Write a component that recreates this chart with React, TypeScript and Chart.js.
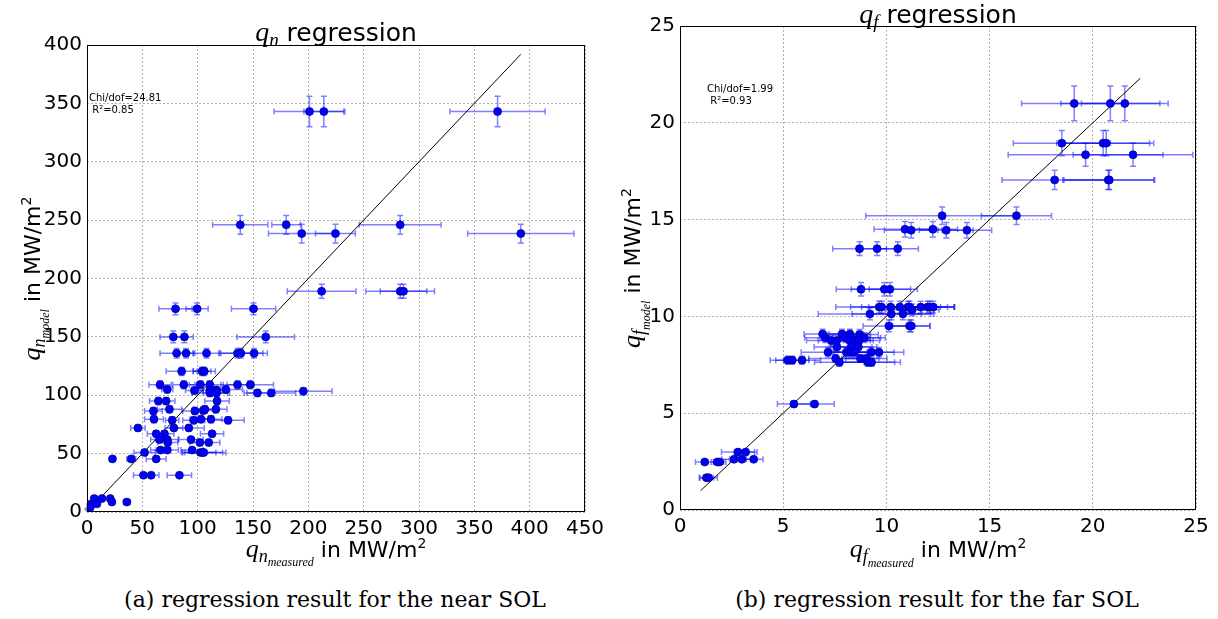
import React, { useEffect, useRef } from "react";
import { Chart, registerables } from "chart.js";
Chart.register(...registerables);

// ---------- (a) near SOL ----------
const nearX = [201, 214, 371, 138.5, 180, 283, 194, 224.5, 392, 212, 283, 286, 80, 99.5, 150.5, 78, 88, 161.5,
  81, 89.5, 108, 136, 139, 151, 85.5, 104, 106, 66, 87.5, 102.5, 111, 136, 147.5, 72.5, 97, 111, 117, 125.5,
  111, 117, 154, 166.5, 195.5, 64.5, 71.5, 117.5, 60, 74.5, 97.5, 105, 106.5, 116.5, 60.5, 77, 96.5, 103, 112, 127.5,
  46, 78.5, 92, 62.5, 70, 113, 65.5, 72.5, 73, 94, 102, 110, 52, 66.5, 72.5, 95, 102.5, 104.5, 105.5,
  23, 40, 62.5, 51, 58, 83.5, 0.5, 2, 3, 6.5, 9, 13.5, 21, 22.5, 36];
const nearY = [343, 343, 343, 246, 246, 246, 238.5, 238.5, 238.5, 189, 189, 189, 174, 174, 174, 150, 150, 150,
  136, 136, 136, 136, 136, 136, 120.5, 120.5, 120.5, 109, 109, 109, 109, 109, 109, 105, 104, 104, 104.5, 105,
  102, 102, 102, 102, 103.5, 95, 95, 95, 86.5, 88, 86.5, 87, 88, 88, 79.5, 78.5, 78.5, 79.5, 79.5, 78.5,
  72, 72, 72, 67, 67, 67, 62, 62, 59.5, 62, 59.5, 59.5, 51, 53, 53, 53, 51, 51, 51,
  45.5, 45.5, 45.5, 31.5, 31.5, 31.5, 2.5, 6.5, 4, 11.5, 7, 11.5, 11.5, 8.5, 8.5];
const nearXErr = [32, 18, 43, 25, 13, 37, 30, 18, 48, 31, 31, 21, 15, 10, 20, 12, 8, 26,
  15, 8, 12, 15, 20, 12, 14, 8, 10, 10, 10, 10, 12, 15, 21, 5, 8, 10, 9, 15,
  16, 12, 12, 22, 26, 8, 8, 11, 8, 11, 11, 10, 10, 10, 8.5, 6, 10, 10, 10, 14.5,
  6.5, 8, 14, 8, 8.5, 10.5, 8, 10, 9, 11, 9, 10, 9.5, 9, 10, 10, 14, 18, 20,
  0, 4, 9, 9, 7, 11, 0.5, 1, 0.5, 1, 1.5, 1.5, 1.5, 1.5, 3];
const nearYErr = [13, 13, 13, 8, 8, 8, 8, 8, 8, 6, 6, 6, 5, 5, 5, 5, 5, 5,
  4, 4, 4, 4, 4, 4, 3.5, 3.5, 3.5, 3.5, 3.5, 3.5, 3.5, 3.5, 3.5, 3, 3, 3, 3, 3,
  3, 3, 3, 3, 3, 3, 3, 3, 3, 3, 3, 3, 3, 3, 3, 3, 3, 3, 3, 3,
  2.5, 2.5, 2.5, 2.5, 2.5, 2.5, 2.5, 2.5, 2.5, 2.5, 2.5, 2.5, 2, 2, 2, 2, 2, 2, 2,
  2, 2, 2, 1.5, 1.5, 1.5, 0.5, 0.5, 0.5, 0.5, 0.5, 0.5, 0.5, 0.5, 0.5];
const nearFit = [0, 392];
const nearStats = ["Chi/dof=24.81", " R\u00b2=0.85"];

// ---------- (b) far SOL ----------
const farX = [19.1, 20.85, 21.55, 18.5, 20.5, 20.65, 19.65, 21.95, 18.15, 20.75, 20.8,
  12.7, 16.3, 10.9, 11.2, 12.25, 12.9, 13.9, 8.7, 9.55, 10.55, 8.77, 9.9, 10.17,
  9.65, 9.77, 10.2, 10.65, 11.05, 11.12, 11.66, 12.0, 12.1, 12.27, 9.2, 10.24, 10.8, 11.25,
  10.12, 11.12, 11.2, 6.91, 7.85, 8.23, 8.7, 7.04, 8.01, 8.3, 8.72, 8.94, 7.33, 7.6, 8.22, 8.46, 8.67,
  7.6, 8.3, 8.64, 7.17, 8.06, 8.28, 8.46, 9.27, 9.64, 5.22, 5.44, 5.91, 7.54, 8.74, 9.03, 7.72, 9.1, 9.28,
  5.52, 6.52, 2.81, 3.18, 2.62, 3.0, 3.57, 1.2, 1.81, 1.92, 1.28, 1.39];
const farY = [21, 21, 21, 18.95, 18.95, 18.95, 18.35, 18.35, 17.05, 17.05, 17.05,
  15.2, 15.2, 14.5, 14.45, 14.5, 14.45, 14.45, 13.5, 13.5, 13.5, 11.4, 11.4, 11.4,
  10.48, 10.48, 10.48, 10.48, 10.48, 10.48, 10.48, 10.48, 10.48, 10.48, 10.13, 10.13, 10.13, 10.34,
  9.51, 9.51, 9.51, 9.09, 9.09, 9.09, 9.07, 8.9, 8.9, 8.9, 8.9, 8.9, 8.75, 8.75, 8.75, 8.75, 8.75,
  8.42, 8.42, 8.42, 8.15, 8.15, 8.15, 8.15, 8.15, 8.15, 7.74, 7.74, 7.74, 7.83, 7.83, 7.83, 7.63, 7.63, 7.63,
  5.47, 5.47, 2.99, 2.99, 2.62, 2.62, 2.62, 2.48, 2.48, 2.48, 1.67, 1.67];
const farXErr = [2.55, 2.4, 2.1, 2.35, 2.25, 2.3, 3.75, 2.9, 2.55, 2.2, 2.2,
  3.7, 1.7, 1.5, 1.3, 1.2, 1.3, 1.2, 1.3, 1.0, 1.0, 1.2, 1.6, 1.0,
  2.1, 1.5, 1.4, 1.5, 1.2, 1.5, 1.3, 1.3, 1.2, 1.0, 2.5, 1.9, 1.5, 1.3,
  1.25, 1.0, 0.9, 0.9, 1.0, 1.0, 0.9, 1.0, 1.0, 0.9, 1.0, 1.0, 1.2, 0.9, 1.0, 0.9, 1.0,
  1.1, 1.0, 0.9, 1.3, 1.0, 0.9, 1.0, 1.1, 1.2, 0.85, 0.8, 0.9, 1.3, 0.9, 1.0, 1.2, 1.3, 1.4,
  0.8, 0.95, 0.8, 0.55, 0.6, 0.6, 0.45, 0.45, 0.3, 0.3, 0.35, 0.42];
const farYErr = [0.9, 0.9, 0.9, 0.65, 0.65, 0.65, 0.6, 0.6, 0.5, 0.5, 0.5,
  0.45, 0.45, 0.4, 0.4, 0.4, 0.4, 0.4, 0.35, 0.35, 0.35, 0.35, 0.35, 0.35,
  0.3, 0.3, 0.3, 0.3, 0.3, 0.3, 0.3, 0.3, 0.3, 0.3, 0.3, 0.3, 0.3, 0.3,
  0.3, 0.3, 0.3, 0.25, 0.25, 0.25, 0.25, 0.25, 0.25, 0.25, 0.25, 0.25, 0.25, 0.25, 0.25, 0.25, 0.25,
  0.25, 0.25, 0.25, 0.25, 0.25, 0.25, 0.25, 0.25, 0.25, 0.2, 0.2, 0.2, 0.2, 0.2, 0.2, 0.2, 0.2, 0.2,
  0.15, 0.15, 0.1, 0.1, 0.1, 0.1, 0.1, 0.1, 0.1, 0.1, 0.05, 0.05];
const farFit = [1, 22.3];
const farStats = ["Chi/dof=1.99", " R\u00b2=0.93"];

const nearAxis = { xMax: 450, yMax: 400, step: 50 };
const farAxis = { xMax: 25, yMax: 25, step: 5 };

const captionA = "(a) regression result for the near SOL";
const captionB = "(b) regression result for the far SOL";

const SANS = '"DejaVu Sans", sans-serif';
const MATH = '"Liberation Serif", serif';

type Seg = { t: string; f: string; dy?: number };

function drawRich(ctx: CanvasRenderingContext2D, segs: Seg[], cx: number, cy: number, rot = 0) {
  ctx.save();
  ctx.translate(cx, cy);
  ctx.rotate(rot);
  let w = 0;
  for (const s of segs) { ctx.font = s.f; w += ctx.measureText(s.t).width; }
  let x = -w / 2;
  ctx.textAlign = "left";
  ctx.textBaseline = "alphabetic";
  ctx.fillStyle = "#000";
  for (const s of segs) {
    ctx.font = s.f;
    ctx.fillText(s.t, x, s.dy || 0);
    x += ctx.measureText(s.t).width;
  }
  ctx.restore();
}

const errorBarPlugin = {
  id: "errorBars",
  beforeDatasetsDraw(chart: any) {
    const ctx = chart.ctx;
    const xs = chart.scales.x, ys = chart.scales.y;
    chart.data.datasets.forEach((ds: any) => {
      if (!ds.xErr) return;
      ctx.save();
      ctx.strokeStyle = "rgba(0,0,255,0.5)";
      ctx.lineWidth = 1.5;
      ds.data.forEach((p: any, i: number) => {
        const px = xs.getPixelForValue(p.x), py = ys.getPixelForValue(p.y);
        const xe = ds.xErr[i], ye = ds.yErr[i];
        const x1 = xs.getPixelForValue(p.x - xe), x2 = xs.getPixelForValue(p.x + xe);
        const y1 = ys.getPixelForValue(p.y - ye), y2 = ys.getPixelForValue(p.y + ye);
        const c = 3;
        ctx.beginPath();
        if (xe > 0) {
          ctx.moveTo(x1, py); ctx.lineTo(x2, py);
          ctx.moveTo(x1, py - c); ctx.lineTo(x1, py + c);
          ctx.moveTo(x2, py - c); ctx.lineTo(x2, py + c);
        }
        if (ye > 0) {
          ctx.moveTo(px, y1); ctx.lineTo(px, y2);
          ctx.moveTo(px - c, y1); ctx.lineTo(px + c, y1);
          ctx.moveTo(px - c, y2); ctx.lineTo(px + c, y2);
        }
        ctx.stroke();
      });
      ctx.restore();
    });
  },
};

const decorPlugin = {
  id: "decor",
  afterDraw(chart: any, _a: any, opts: any) {
    const ctx = chart.ctx;
    const a = chart.chartArea;
    ctx.save();
    ctx.strokeStyle = "#000";
    ctx.lineWidth = 1;
    ctx.strokeRect(Math.round(a.left) + 0.5, Math.round(a.top) + 0.5, Math.round(a.right - a.left) - 1, Math.round(a.bottom - a.top) - 1);
    ctx.restore();
    const cx = (a.left + a.right) / 2;
    const cy = (a.top + a.bottom) / 2;
    drawRich(ctx, opts.title, cx, opts.titleY);
    drawRich(ctx, opts.xTitle, cx, opts.xTitleY);
    drawRich(ctx, opts.yTitle, opts.yTitleX, cy, -Math.PI / 2);
    ctx.save();
    ctx.font = "10px " + SANS;
    ctx.fillStyle = "#000";
    ctx.textAlign = "left";
    ctx.fillText(opts.stats[0], opts.statsX, opts.statsY);
    ctx.fillText(opts.stats[1], opts.statsX, opts.statsY + 12);
    ctx.restore();
  },
};

function makeConfig(p: any) {
  const pts = p.xs.map((x: number, i: number) => ({ x, y: p.ys[i] }));
  return {
    type: "scatter",
    data: {
      datasets: [
        {
          data: pts,
          xErr: p.xErr,
          yErr: p.yErr,
          pointRadius: 4,
          pointBackgroundColor: "#0000ff",
          pointBorderColor: "#00007a",
          pointBorderWidth: 0.7,
        },
        {
          type: "line",
          data: p.fit.map((v: number) => ({ x: v, y: v })),
          borderColor: "#000",
          borderWidth: 1,
          pointRadius: 0,
          fill: false,
        },
      ],
    },
    options: {
      responsive: false,
      animation: false,
      events: [],
      layout: { padding: p.padding },
      plugins: {
        legend: { display: false },
        tooltip: { enabled: false },
        decor: p.decor,
      },
      scales: {
        x: {
          type: "linear",
          min: 0,
          max: p.axis.xMax,
          afterFit: (s: any) => { s.height = p.xAxisH; },
          ticks: { stepSize: p.axis.step, color: "#000", padding: 5, font: { family: SANS, size: 20 } },
          grid: { color: "#b0b0b0", drawTicks: false, lineWidth: 1 },
          border: { display: false, dash: [2, 2] },
        },
        y: {
          type: "linear",
          min: 0,
          max: p.axis.yMax,
          afterFit: (s: any) => { s.width = p.yAxisW; },
          ticks: { stepSize: p.axis.step, color: "#000", padding: 5, font: { family: SANS, size: 20 } },
          grid: { color: "#b0b0b0", drawTicks: false, lineWidth: 1 },
          border: { display: false, dash: [2, 2] },
        },
      },
    },
    plugins: [errorBarPlugin, decorPlugin],
  };
}

const qItal = (s: number) => "italic " + s + "px " + MATH;
const sans = (s: number) => s + "px " + SANS;

const nearCfg = {
  xs: nearX, ys: nearY, xErr: nearXErr, yErr: nearYErr, fit: nearFit, axis: nearAxis,
  padding: { left: 0, right: 25, top: 45, bottom: 0 }, xAxisH: 68, yAxisW: 87,
  decor: {
    title: [{ t: "q", f: qItal(28) }, { t: "n", f: qItal(19), dy: 5 }, { t: " regression", f: sans(25) }],
    titleY: 41,
    xTitle: [{ t: "q", f: qItal(26) }, { t: "n", f: qItal(18), dy: 5 }, { t: "measured", f: qItal(12), dy: 9 }, { t: " in MW/m", f: sans(22) }, { t: "2", f: sans(14), dy: -9 }],
    xTitleY: 557,
    yTitle: [{ t: "q", f: qItal(26) }, { t: "n", f: qItal(18), dy: 5 }, { t: "model", f: qItal(12), dy: 9 }, { t: " in MW/m", f: sans(22) }, { t: "2", f: sans(14), dy: -9 }],
    yTitleX: 40,
    stats: nearStats, statsX: 89, statsY: 101,
  },
};

const farCfg = {
  xs: farX, ys: farY, xErr: farXErr, yErr: farYErr, fit: farFit, axis: farAxis,
  padding: { left: 0, right: 22, top: 26, bottom: 0 }, xAxisH: 70, yAxisW: 70,
  decor: {
    title: [{ t: "q", f: qItal(28) }, { t: "f", f: qItal(19), dy: 5 }, { t: " regression", f: sans(25) }],
    titleY: 23,
    xTitle: [{ t: "q", f: qItal(26) }, { t: "f", f: qItal(18), dy: 5 }, { t: "measured", f: qItal(12), dy: 10 }, { t: " in MW/m", f: sans(22) }, { t: "2", f: sans(14), dy: -9 }],
    xTitleY: 557,
    yTitle: [{ t: "q", f: qItal(26) }, { t: "f", f: qItal(18), dy: 5 }, { t: "model", f: qItal(12), dy: 10 }, { t: " in MW/m", f: sans(22) }, { t: "2", f: sans(14), dy: -9 }],
    yTitleX: 30,
    stats: farStats, statsX: 97, statsY: 92,
  },
};

function Panel({ cfg, left, width, height }: any) {
  const ref = useRef<HTMLCanvasElement>(null);
  useEffect(() => {
    const chart = new Chart(ref.current as HTMLCanvasElement, makeConfig(cfg) as any);
    return () => chart.destroy();
  }, []);
  return (
    <canvas
      ref={ref}
      width={width}
      height={height}
      style={{ position: "absolute", left, top: 0, width, height }}
    />
  );
}

export default function App() {
  const capStyle: React.CSSProperties = {
    position: "absolute",
    top: 586,
    width: 600,
    textAlign: "center",
    fontFamily: '"DejaVu Serif", serif',
    fontSize: 22,
    lineHeight: "28px",
    whiteSpace: "nowrap",
    color: "#000",
  };
  return (
    <div style={{ position: "absolute", left: 0, top: 0, width: 1218, height: 619, background: "#fff", overflow: "hidden" }}>
      <Panel cfg={nearCfg} left={0} width={610} height={580} />
      <Panel cfg={farCfg} left={610} width={608} height={580} />
      <div style={{ ...capStyle, left: 335 - 300 }}>{captionA}</div>
      <div style={{ ...capStyle, left: 937 - 300 }}>{captionB}</div>
    </div>
  );
}
